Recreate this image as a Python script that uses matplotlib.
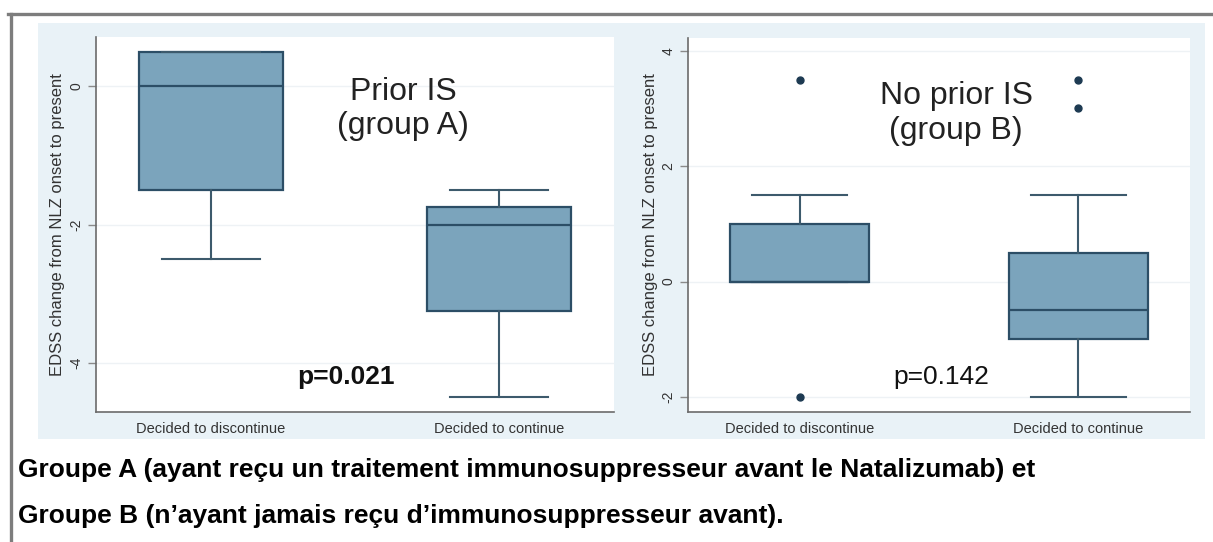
import matplotlib
matplotlib.use("Agg")
import matplotlib.pyplot as plt
from matplotlib.patches import Rectangle
from matplotlib.lines import Line2D

plt.rcParams['font.family'] = ['Liberation Sans', 'DejaVu Sans']

# data
groups = ["Decided to discontinue", "Decided to continue"]

a_q1 = [-1.5, -3.25]
a_med = [0.0, -2.0]
a_q3 = [0.5, -1.75]
a_lo = [-2.5, -4.5]
a_hi = [0.5, -1.5]
a_out = [[], []]

b_q1 = [0.0, -1.0]
b_med = [0.0, -0.5]
b_q3 = [1.0, 0.5]
b_lo = [0.0, -2.0]
b_hi = [1.5, 1.5]
b_out = [[3.5, -2.0], [3.5, 3.0]]

a_ticks = [0, -2, -4]
b_ticks = [4, 2, 0, -2]

box_fill = '#7ba4bc'
box_edge = '#2c4e66'
whisk_col = '#3d5a6c'
dot_col = '#1d3a52'
panel_bg = '#e9f2f7'
txt_col = '#333333'


def make_stats(q1, med, q3, lo, hi, out):
    stats = []
    for i in range(len(q1)):
        stats.append(dict(q1=q1[i], med=med[i], q3=q3[i], whislo=lo[i],
                          whishi=hi[i], fliers=out[i], label=groups[i]))
    return stats


def draw_panel(ax, stats, ticks, ylim):
    ax.bxp(stats, positions=[1, 2], widths=0.5, capwidths=0.34,
           patch_artist=True,
           boxprops=dict(facecolor=box_fill, edgecolor=box_edge, linewidth=1.6),
           medianprops=dict(color=box_edge, linewidth=1.6),
           whiskerprops=dict(color=whisk_col, linewidth=1.5),
           capprops=dict(color=whisk_col, linewidth=1.5),
           flierprops=dict(marker='o', markerfacecolor=dot_col,
                           markeredgecolor=dot_col, markersize=5))
    ax.set_xlim(0.6, 2.4)
    ax.set_ylim(*ylim)
    ax.set_yticks(ticks)
    ax.set_yticklabels([str(t) for t in ticks])
    ax.set_xticks([1, 2])
    ax.set_xticklabels(groups)
    ax.set_facecolor('white')
    for s in ['top', 'right']:
        ax.spines[s].set_visible(False)
    for s in ['left', 'bottom']:
        ax.spines[s].set_color('#6b6b6b')
        ax.spines[s].set_linewidth(1.2)
    ax.tick_params(axis='y', labelrotation=90, length=6, width=1,
                   color='#8a8a8a', labelsize=10, labelcolor=txt_col, pad=3)
    ax.tick_params(axis='x', length=0, labelsize=10.5, labelcolor=txt_col, pad=7)
    for t in ax.get_yticklabels():
        t.set_va('center')
    ax.yaxis.grid(True, color='#eef2f5', linewidth=1)
    ax.set_axisbelow(True)
    ax.set_ylabel('EDSS change from NLZ onset to present', fontsize=12,
                  color=txt_col)
    ax.yaxis.set_label_coords(-0.06, 0.5)


fig = plt.figure(figsize=(12.13, 5.42), dpi=100)
W, H = 1213.0, 542.0

# light graph region behind both panels
fig.add_artist(Rectangle((38 / W, 1 - 439 / H), (1205 - 38) / W, (439 - 23) / H,
                         transform=fig.transFigure, facecolor=panel_bg,
                         edgecolor='none', zorder=0))
# outer gray frame (top and left)
fig.add_artist(Line2D([8 / W, 1], [1 - 13.5 / H, 1 - 13.5 / H],
                      transform=fig.transFigure, color='#7d7d7d', linewidth=2.4))
fig.add_artist(Line2D([11 / W, 11 / W], [0, 1 - 13.5 / H],
                      transform=fig.transFigure, color='#7d7d7d', linewidth=2.4))

ax1 = fig.add_axes([96 / W, 1 - 412 / H, (614 - 96) / W, (412 - 37) / H])
ax2 = fig.add_axes([688 / W, 1 - 412 / H, (1190 - 688) / W, (412 - 38) / H])

draw_panel(ax1, make_stats(a_q1, a_med, a_q3, a_lo, a_hi, a_out), a_ticks, (-4.71, 0.71))
draw_panel(ax2, make_stats(b_q1, b_med, b_q3, b_lo, b_hi, b_out), b_ticks, (-2.26, 4.22))

ax1.text(0.593, 0.808, 'Prior IS\n(group A)', transform=ax1.transAxes,
         ha='center', va='center', multialignment='center', fontsize=23,
         color='#222222', linespacing=1.2)
ax1.text(0.482, 0.093, 'p=0.021', transform=ax1.transAxes, ha='center',
         va='center', fontsize=19, fontweight='bold', color='#111111')

ax2.text(0.534, 0.798, 'No prior IS\n(group B)', transform=ax2.transAxes,
         ha='center', va='center', multialignment='center', fontsize=23,
         color='#222222', linespacing=1.2)
ax2.text(0.504, 0.094, 'p=0.142', transform=ax2.transAxes, ha='center',
         va='center', fontsize=19, color='#111111')

fig.text(18 / W, 1 - 470 / H,
         'Groupe A (ayant reçu un traitement immunosuppresseur avant le Natalizumab) et',
         ha='left', va='center', fontsize=19, fontweight='bold', color='black')
fig.text(18 / W, 1 - 516 / H,
         'Groupe B (n\u2019ayant jamais reçu d\u2019immunosuppresseur avant).',
         ha='left', va='center', fontsize=19, fontweight='bold', color='black')

fig.savefig('out.png', dpi=100)
